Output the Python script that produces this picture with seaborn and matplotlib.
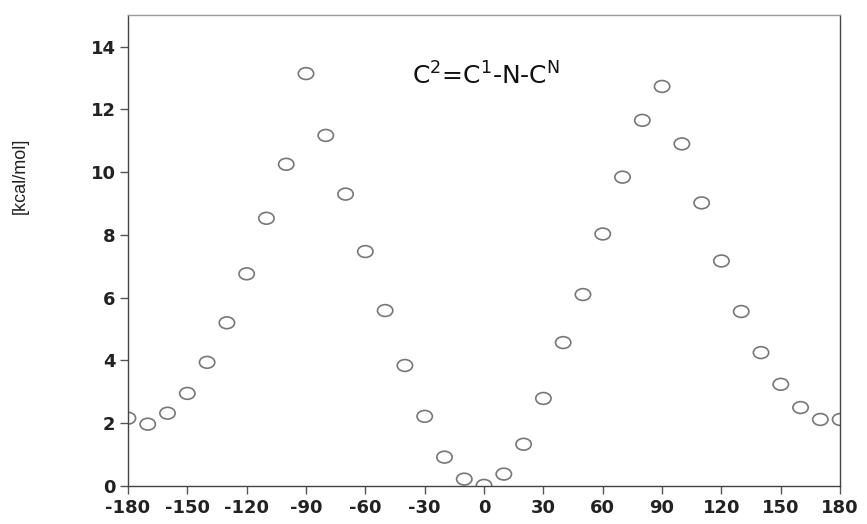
import numpy as np
import pandas as pd
import matplotlib
matplotlib.use("Agg")
import matplotlib.pyplot as plt
from matplotlib.markers import MarkerStyle
from matplotlib.transforms import Affine2D
import seaborn as sns

# Torsion angle scan C2=C1-N-CN (degrees) and relative energy (kcal/mol)
angles = [-180, -170, -160, -150, -140, -130, -120, -110, -100, -90,
          -80, -70, -60, -50, -40, -30, -20, -10, 0, 10,
          20, 30, 40, 50, 60, 70, 80, 90, 100, 110,
          120, 130, 140, 150, 160, 170, 180]
energies = [2.16, 1.97, 2.32, 2.95, 3.94, 5.2, 6.76, 8.53, 10.25, 13.14,
            11.17, 9.3, 7.47, 5.59, 3.84, 2.22, 0.92, 0.22, 0.02, 0.38,
            1.33, 2.79, 4.57, 6.1, 8.03, 9.84, 11.65, 12.73, 10.9, 9.02,
            7.17, 5.56, 4.25, 3.24, 2.5, 2.12, 2.12]
x_ticks = [-180, -150, -120, -90, -60, -30, 0, 30, 60, 90, 120, 150, 180]
y_ticks = [0, 2, 4, 6, 8, 10, 12, 14]

sns.set_style("ticks")
plt.rcParams["font.family"] = ["DejaVu Sans"]

df = pd.DataFrame({"angle": angles, "energy": energies})

fig = plt.figure(figsize=(8.67, 5.24), dpi=100)
ax = fig.add_axes([0.1476, 0.0725, 0.8214, 0.8985])

oval = MarkerStyle("o", transform=Affine2D().scale(1.3, 1.0))
sns.scatterplot(data=df, x="angle", y="energy", ax=ax, marker=oval, s=72,
                facecolor="none", edgecolor="#777777", linewidth=1.2)

ax.set_xlim(-180, 180)
ax.set_ylim(0, 15)
ax.set_xticks(x_ticks)
ax.set_yticks(y_ticks)
ax.set_xticklabels([str(t) for t in x_ticks], fontsize=13, fontweight="bold", color="#222222")
ax.set_yticklabels([str(t) for t in y_ticks], fontsize=13, fontweight="bold", color="#222222")
ax.tick_params(axis="both", direction="out", length=6, width=1, color="#555555", pad=3)

ax.set_xlabel("")
ax.set_ylabel("[kcal/mol]", fontsize=13, color="#222222",
              family=["Liberation Sans Narrow", "Liberation Sans", "DejaVu Sans"])
ax.yaxis.set_label_coords(-0.14, 0.658)

for side in ["left", "right", "top", "bottom"]:
    ax.spines[side].set_visible(True)
    ax.spines[side].set_color("#444444")
    ax.spines[side].set_linewidth(1.0)
ax.spines["top"].set_color("#999999")

ax.text(1, 12.8, r"C$^{2}$=C$^{1}$-N-C$^{\mathrm{N}}$", fontsize=18,
        ha="center", va="baseline", color="#111111")

fig.savefig("out.png", dpi=100, facecolor="white")
